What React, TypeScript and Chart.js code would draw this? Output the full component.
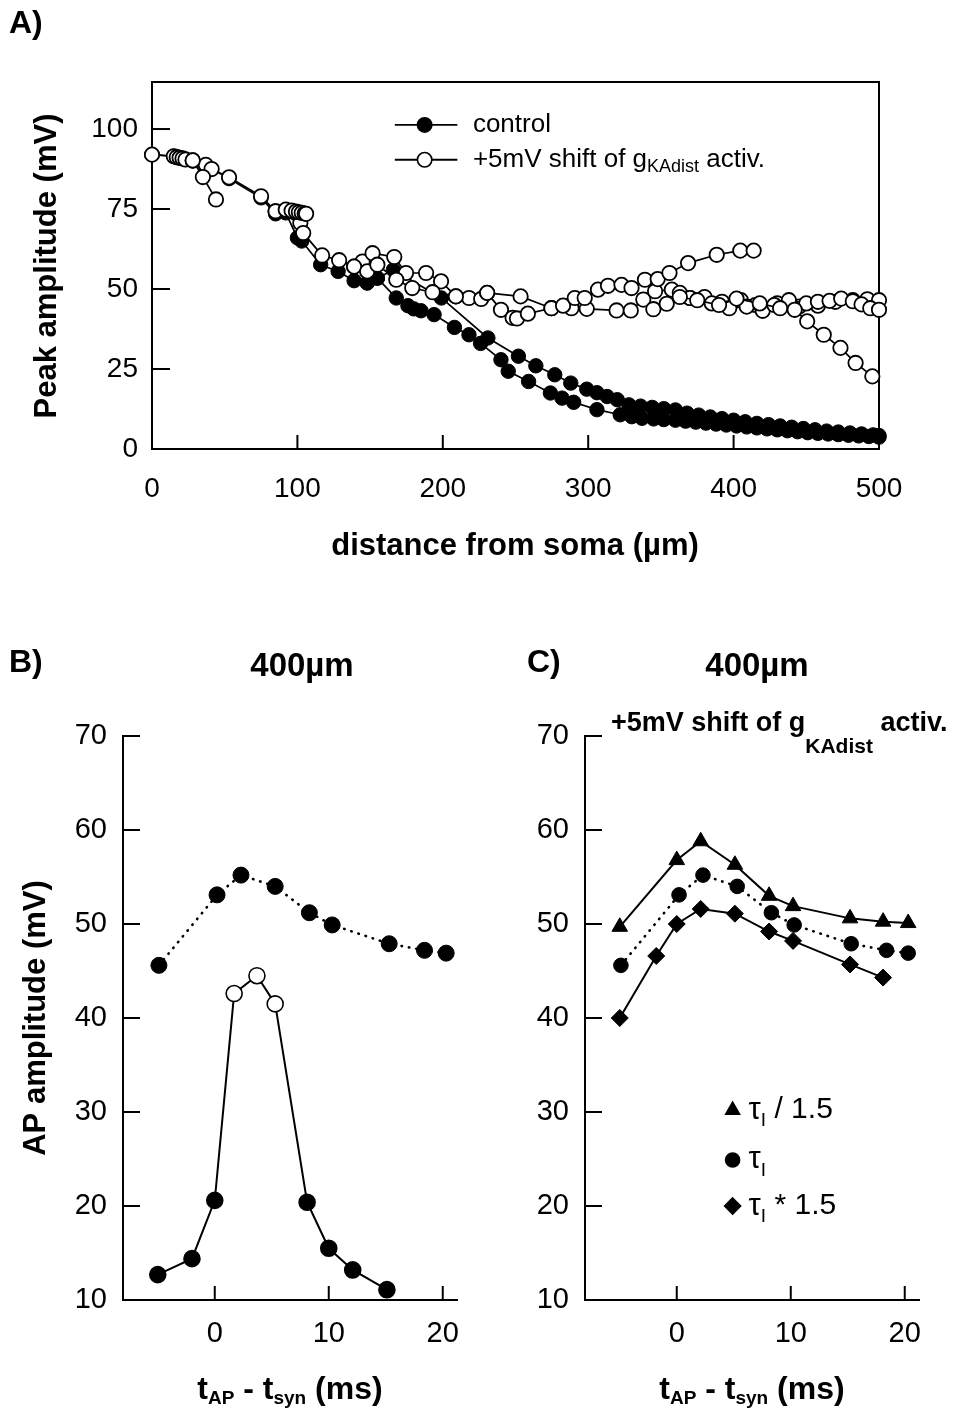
import React, { useEffect, useRef } from "react";
import { Chart, registerables } from "chart.js";

Chart.register(...registerables);

const FONT = "'Liberation Sans', Arial, Helvetica, sans-serif";

// ---------------- Panel A data ----------------
const distTicks = [0, 100, 200, 300, 400, 500];
const peakTicks = [0, 25, 50, 75, 100];

const ctrlMainDist = [0, 15, 17, 19, 21, 23, 28, 37, 53, 75, 85, 92, 100, 103, 116, 128, 139, 148, 155, 168, 176, 180, 185, 194, 208, 218, 226, 240, 245, 259, 274, 282, 290, 306, 322, 330, 337, 345, 352, 360, 367, 374, 381, 388, 395, 402, 409, 416, 423, 430, 437, 444, 451, 458, 465, 472, 479, 486, 493, 500];
const ctrlMainPeak = [92, 91.5, 91.2, 91, 90.8, 90.5, 90, 88.5, 84.5, 78.5, 73.5, 73.8, 66, 65, 57.6, 55.5, 52.6, 51.9, 53.4, 47.2, 44.8, 43.8, 43.2, 42, 38, 35.7, 33, 27.9, 24.3, 21.1, 17.5, 15.9, 14.6, 12.3, 10.7, 10.1, 9.6, 9.4, 9.2, 9, 8.7, 8.4, 8.1, 7.8, 7.5, 7.2, 6.9, 6.6, 6.3, 6, 5.7, 5.4, 5.1, 4.9, 4.7, 4.5, 4.3, 4.1, 3.9, 3.7];

const ctrlUpperDist = [148, 155, 166, 199, 231, 252, 264, 277, 288, 299, 306, 313, 320, 328, 336, 344, 352, 360, 368, 376, 384, 392, 400, 408, 416, 424, 432, 440, 448, 456, 464, 472, 480, 488, 496, 500];
const ctrlUpperPeak = [51.9, 53.4, 56, 47.2, 34.7, 29, 26, 23.2, 20.6, 18.7, 17.6, 16.4, 15.4, 13.8, 13.4, 13, 12.6, 12.2, 11.2, 10.6, 10, 9.5, 9, 8.5, 8, 7.6, 7.2, 6.8, 6.4, 6, 5.6, 5.3, 5, 4.7, 4.4, 4.2];

const shiftMainDist = [0, 15, 17, 19, 21, 23, 28, 37, 41, 53, 75, 85, 102, 104, 117, 128.7, 139, 144.8, 151.7, 166.6, 174.7, 188.5, 198.8, 209, 218, 226.4, 230.5, 253.5, 274.7, 288.5, 299, 319.5, 329.3, 337.9, 346, 357.5, 363, 370, 380, 392, 405, 415, 430, 445, 458, 470, 482, 492, 500];
const shiftMainPeak = [92, 91.5, 91.2, 91, 90.8, 90.5, 90.2, 88.8, 87.5, 84.9, 79, 74.3, 70.6, 67.5, 60.5, 59, 57, 58.6, 61.2, 60, 55, 55, 52.4, 47.7, 47.2, 46.9, 48.8, 47.7, 44, 44, 43.8, 43.3, 43.3, 46.7, 49.3, 49.8, 48.8, 47.2, 47.5, 46, 46.5, 45, 45.5, 44.5, 44.8, 46, 46.5, 46.8, 46.5];

const shiftSideADist = [28, 35, 44];
const shiftSideAPeak = [90.2, 85, 78];
const shiftSideBDist = [85, 92, 96, 99, 101, 103, 105, 106];
const shiftSideBPeak = [74.3, 74.8, 74.5, 74.2, 74, 73.8, 73.6, 73.5];
const shiftLowDist = [139, 148, 155, 168, 179, 193, 209];
const shiftLowPeak = [57, 55.5, 57.6, 52.9, 50.3, 49, 47.7];
const shiftRiseDist = [230.5, 240, 248, 251, 258.5, 274.7, 282.7, 290.8, 297.6, 306.7, 313.6, 322.9, 329.8, 339, 347.8, 355.9, 368.7, 388.4, 404.6, 413.8];
const shiftRisePeak = [48.8, 43.5, 41, 40.8, 42.3, 44, 44.8, 47.2, 47.2, 49.8, 51, 51.3, 50.3, 52.9, 53.1, 55, 58.1, 60.7, 62, 62];
const shiftDropDist = [344.8, 354, 363, 375, 390, 402, 418, 432, 442, 450.6, 462, 473.5, 483.9, 495.4];
const shiftDropPeak = [43.7, 45.4, 47.5, 46.5, 45, 47, 45.5, 44, 43.5, 39.9, 35.7, 31.6, 26.9, 22.7];
const shiftFlatDist = [370, 385, 397, 409, 420, 428, 438, 450, 458, 466, 474, 482, 488, 494, 500];
const shiftFlatPeak = [47.2, 45.5, 44, 44.5, 43.2, 45, 46.5, 45.5, 46, 46.3, 47, 46.2, 45.2, 44, 43.5];

const legendA = ["control", "+5mV shift of g", "KAdist", " activ."];

// ---------------- Panels B / C data ----------------
const timeTicks = [0, 10, 20];
const apTicks = [10, 20, 30, 40, 50, 60, 70];

const tPair = [-5, -2, 0, 1.7, 3.7, 5.3, 8.1, 10, 12.1, 15.1];
const apPair = [12.7, 14.4, 20.6, 42.6, 44.5, 41.5, 20.4, 15.5, 13.2, 11.1];
const pairOpenIdx = [3, 4, 5];

const tShift = [-4.9, 0.2, 2.3, 5.3, 8.3, 10.3, 15.3, 18.4, 20.3];
const apShift = [45.6, 53.1, 55.2, 54.0, 51.2, 49.9, 47.9, 47.2, 46.9];

const tFast = [-5, 0, 2.1, 5.1, 8.1, 10.2, 15.2, 18.1, 20.3];
const apFast = [49.7, 56.8, 58.8, 56.3, 53.0, 51.9, 50.6, 50.25, 50.1];

const tSlow = [-5, -1.8, 0, 2.1, 5.1, 8.1, 10.2, 15.2, 18.1];
const apSlow = [40, 46.6, 50, 51.6, 51.1, 49.2, 48.2, 45.7, 44.3];

const legendC = [" / 1.5", "", " * 1.5"];

// ---------------- helpers ----------------
type Run = { t: string; size: number; bold?: boolean; dy?: number };

function drawRich(ctx: CanvasRenderingContext2D, runs: Run[], x: number, y: number, align: "left" | "center" = "left") {
  ctx.save();
  ctx.fillStyle = "#000";
  ctx.textBaseline = "middle";
  ctx.textAlign = "left";
  const fonts = runs.map((r) => `${r.bold ? "bold " : ""}${r.size}px ${FONT}`);
  let total = 0;
  const ws = runs.map((r, i) => {
    ctx.font = fonts[i];
    const w = ctx.measureText(r.t).width;
    total += w;
    return w;
  });
  let cx = align === "center" ? x - total / 2 : x;
  runs.forEach((r, i) => {
    ctx.font = fonts[i];
    ctx.fillText(r.t, cx, y + (r.dy || 0));
    cx += ws[i];
  });
  ctx.restore();
}

function drawRotated(ctx: CanvasRenderingContext2D, runs: Run[], x: number, y: number) {
  ctx.save();
  ctx.translate(x, y);
  ctx.rotate(-Math.PI / 2);
  drawRich(ctx, runs, 0, 0, "center");
  ctx.restore();
}

function marker(ctx: CanvasRenderingContext2D, shape: string, x: number, y: number, r: number, fill: string) {
  ctx.save();
  ctx.fillStyle = fill;
  ctx.strokeStyle = "#000";
  ctx.lineWidth = 1.6;
  ctx.beginPath();
  if (shape === "circle") {
    ctx.arc(x, y, r, 0, Math.PI * 2);
  } else if (shape === "triangle") {
    const h = r * 1.5;
    ctx.moveTo(x, y - r);
    ctx.lineTo(x + h * 0.577, y + r * 0.5);
    ctx.lineTo(x - h * 0.577, y + r * 0.5);
    ctx.closePath();
  } else {
    ctx.moveTo(x, y - r);
    ctx.lineTo(x + r, y);
    ctx.lineTo(x, y + r);
    ctx.lineTo(x - r, y);
    ctx.closePath();
  }
  ctx.fill();
  ctx.stroke();
  ctx.restore();
}

function line(ctx: CanvasRenderingContext2D, x1: number, y1: number, x2: number, y2: number, w = 2) {
  ctx.save();
  ctx.strokeStyle = "#000";
  ctx.lineWidth = w;
  ctx.beginPath();
  ctx.moveTo(x1, y1);
  ctx.lineTo(x2, y2);
  ctx.stroke();
  ctx.restore();
}

function pts(xs: number[], ys: number[]) {
  return xs.map((x, i) => ({ x, y: ys[i] }));
}

function axis(min: number, max: number, ticks: number[], size: number, pad: number, fit: (s: any) => void, border: boolean) {
  return {
    type: "linear",
    min,
    max,
    afterBuildTicks: (s: any) => {
      s.ticks = ticks.map((v) => ({ value: v }));
    },
    afterFit: fit,
    grid: { display: false, drawTicks: false },
    border: { display: border, color: "#000", width: 2 },
    ticks: { color: "#000", font: { family: FONT, size }, padding: pad, autoSkip: false, maxRotation: 0, minRotation: 0 },
  };
}

function inwardTicks(chart: any, xs: number[], ys: number[], xLen: number, yLen: number) {
  const { ctx, chartArea: a, scales } = chart;
  xs.forEach((v) => {
    const px = scales.x.getPixelForValue(v);
    line(ctx, px, a.bottom, px, a.bottom - xLen);
  });
  ys.forEach((v) => {
    const py = scales.y.getPixelForValue(v);
    line(ctx, a.left, py, a.left + yLen, py);
  });
}

// ---------------- Panel A ----------------
function seriesA(xs: number[], ys: number[], filled: boolean) {
  return {
    data: pts(xs, ys),
    showLine: true,
    borderColor: "#000",
    borderWidth: 1.7,
    pointRadius: 7.2,
    pointBorderWidth: filled ? 1 : 1.8,
    pointBackgroundColor: filled ? "#000" : "#fff",
    pointBorderColor: "#000",
    clip: false as any,
    tension: 0,
  };
}

function configA(): any {
  const deco = {
    id: "decoA",
    beforeDatasetsDraw(chart: any) {
      const { ctx, chartArea: a } = chart;
      ctx.save();
      ctx.strokeStyle = "#000";
      ctx.lineWidth = 2;
      ctx.strokeRect(a.left, a.top, a.right - a.left, a.bottom - a.top);
      ctx.restore();
      inwardTicks(chart, [100, 200, 300, 400], [25, 50, 75, 100], 14, 18);
    },
    afterDraw(chart: any) {
      const { ctx, scales } = chart;
      const x = scales.x, y = scales.y;
      const y1 = y.getPixelForValue(101.3);
      const y2 = y.getPixelForValue(90.4);
      const lx1 = x.getPixelForValue(167);
      const lx2 = x.getPixelForValue(210);
      const mx = x.getPixelForValue(187.5);
      const tx = x.getPixelForValue(220.7);
      line(ctx, lx1, y1, lx2, y1, 1.8);
      marker(ctx, "circle", mx, y1, 7.2, "#000");
      line(ctx, lx1, y2, lx2, y2, 1.8);
      marker(ctx, "circle", mx, y2, 7.2, "#fff");
      drawRich(ctx, [{ t: legendA[0], size: 26 }], tx, y1);
      drawRich(ctx, [{ t: legendA[1], size: 26 }, { t: legendA[2], size: 18, dy: 7 }, { t: legendA[3], size: 26 }], tx, y2);
      drawRich(ctx, [{ t: "A)", size: 32, bold: true }], 9, 24);
      drawRotated(ctx, [{ t: "Peak amplitude (mV)", size: 31, bold: true }], 47, 266);
      drawRich(ctx, [{ t: "distance from soma (µm)", size: 31, bold: true }], 515, 546, "center");
    },
  };
  return {
    type: "scatter",
    data: {
      datasets: [
        seriesA(shiftSideADist, shiftSideAPeak, false),
        seriesA(shiftSideBDist, shiftSideBPeak, false),
        seriesA(shiftLowDist, shiftLowPeak, false),
        seriesA(shiftRiseDist, shiftRisePeak, false),
        seriesA(shiftDropDist, shiftDropPeak, false),
        seriesA(shiftFlatDist, shiftFlatPeak, false),
        seriesA(shiftMainDist, shiftMainPeak, false),
        seriesA(ctrlUpperDist, ctrlUpperPeak, true),
        seriesA(ctrlMainDist, ctrlMainPeak, true),
      ],
    },
    options: {
      responsive: false,
      animation: false,
      events: [],
      layout: { padding: { left: 0, top: 82, right: 74, bottom: 907 } },
      plugins: { legend: { display: false }, tooltip: { enabled: false } },
      scales: {
        x: axis(0, 500, distTicks, 28, 23, (s: any) => { s.height = 60; }, false),
        y: axis(0, 114.7, peakTicks, 28, 14, (s: any) => { s.width = 152; }, false),
      },
    },
    plugins: [deco],
  };
}

// ---------------- Panels B / C ----------------
const T_MIN = -8.05;
const T_MAX = 21.25;

function configBC(which: "B" | "C"): any {
  const isB = which === "B";
  const deco = {
    id: "deco" + which,
    beforeDatasetsDraw(chart: any) {
      inwardTicks(chart, timeTicks, [20, 30, 40, 50, 60, 70], 14, 17);
    },
    afterDraw(chart: any) {
      const { ctx, scales, chartArea: a } = chart;
      const cx = (a.left + a.right) / 2;
      drawRich(ctx, [{ t: which + ")", size: 32, bold: true }], isB ? 9 : 527, 663);
      drawRich(ctx, [{ t: "400µm", size: 33, bold: true }], isB ? 302 : 757, 667, "center");
      drawRich(
        ctx,
        [
          { t: "t", size: 32, bold: true },
          { t: "AP", size: 19, bold: true, dy: 9 },
          { t: " - t", size: 32, bold: true },
          { t: "syn", size: 19, bold: true, dy: 9 },
          { t: " (ms)", size: 32, bold: true },
        ],
        cx,
        1390,
        "center"
      );
      if (isB) {
        drawRotated(ctx, [{ t: "AP amplitude (mV)", size: 31, bold: true }], 36, 1018);
      } else {
        drawRich(
          ctx,
          [
            { t: "+5mV shift of g", size: 27, bold: true },
            { t: "KAdist", size: 21, bold: true, dy: 23 },
            { t: " activ.", size: 27, bold: true },
          ],
          611,
          724
        );
        const shapes = ["triangle", "circle", "diamond"];
        const levels = [30.2, 24.9, 20.0];
        const mx = scales.x.getPixelForValue(4.9);
        const tx = scales.x.getPixelForValue(6.3);
        shapes.forEach((s, i) => {
          const py = scales.y.getPixelForValue(levels[i]);
          marker(ctx, s, mx, py, s === "circle" ? 7 : 8, "#000");
          drawRich(ctx, [{ t: "τ", size: 31 }, { t: "I", size: 19, dy: 11 }, { t: legendC[i], size: 30 }], tx, py);
        });
      }
    },
  };

  const datasets: any[] = [];
  if (isB) {
    datasets.push({
      data: pts(tPair, apPair),
      showLine: true,
      borderColor: "#000",
      borderWidth: 2,
      pointRadius: 8,
      pointBorderWidth: 1.6,
      pointBorderColor: "#000",
      pointBackgroundColor: tPair.map((_, i) => (pairOpenIdx.includes(i) ? "#fff" : "#000")),
      tension: 0,
      clip: false,
    });
  } else {
    datasets.push({
      data: pts(tFast, apFast),
      showLine: true,
      borderColor: "#000",
      borderWidth: 2,
      pointStyle: "triangle",
      pointRadius: 9,
      pointBorderWidth: 1,
      pointBorderColor: "#000",
      pointBackgroundColor: "#000",
      tension: 0,
      clip: false,
    });
    datasets.push({
      data: pts(tSlow, apSlow),
      showLine: true,
      borderColor: "#000",
      borderWidth: 2,
      pointStyle: "rectRot",
      pointRadius: 8.5,
      pointBorderWidth: 1,
      pointBorderColor: "#000",
      pointBackgroundColor: "#000",
      tension: 0,
      clip: false,
    });
  }
  datasets.push({
    data: pts(tShift, apShift),
    showLine: true,
    borderColor: "#000",
    borderWidth: 2.6,
    borderDash: [0.5, 7],
    borderCapStyle: "round",
    pointRadius: isB ? 8 : 7.3,
    pointBorderWidth: 1,
    pointBorderColor: "#000",
    pointBackgroundColor: "#000",
    tension: 0,
    clip: false,
  });

  return {
    type: "scatter",
    data: { datasets },
    options: {
      responsive: false,
      animation: false,
      events: [],
      layout: { padding: { left: isB ? 0 : 485, top: 736, right: isB ? 496 : 34, bottom: 56 } },
      plugins: { legend: { display: false }, tooltip: { enabled: false } },
      scales: {
        x: axis(T_MIN, T_MAX, timeTicks, 29, 17, (s: any) => { s.height = 60; }, true),
        y: axis(10, 70, apTicks, 29, 16, (s: any) => { s.width = isB ? 123 : 100; }, true),
      },
    },
    plugins: [deco],
  };
}

export default function App() {
  const refA = useRef<HTMLCanvasElement>(null);
  const refB = useRef<HTMLCanvasElement>(null);
  const refC = useRef<HTMLCanvasElement>(null);

  useEffect(() => {
    const charts = [
      new Chart(refA.current as HTMLCanvasElement, configA()),
      new Chart(refB.current as HTMLCanvasElement, configBC("B")),
      new Chart(refC.current as HTMLCanvasElement, configBC("C")),
    ];
    return () => charts.forEach((c) => c.destroy());
  }, []);

  const cs: React.CSSProperties = { position: "absolute", left: 0, top: 0, width: 953, height: 1416, display: "block" };
  return (
    <div style={{ position: "absolute", left: 0, top: 0, width: 953, height: 1416, background: "#fff", overflow: "hidden" }}>
      <canvas ref={refA} width={953} height={1416} style={cs} />
      <canvas ref={refB} width={953} height={1416} style={cs} />
      <canvas ref={refC} width={953} height={1416} style={cs} />
    </div>
  );
}
